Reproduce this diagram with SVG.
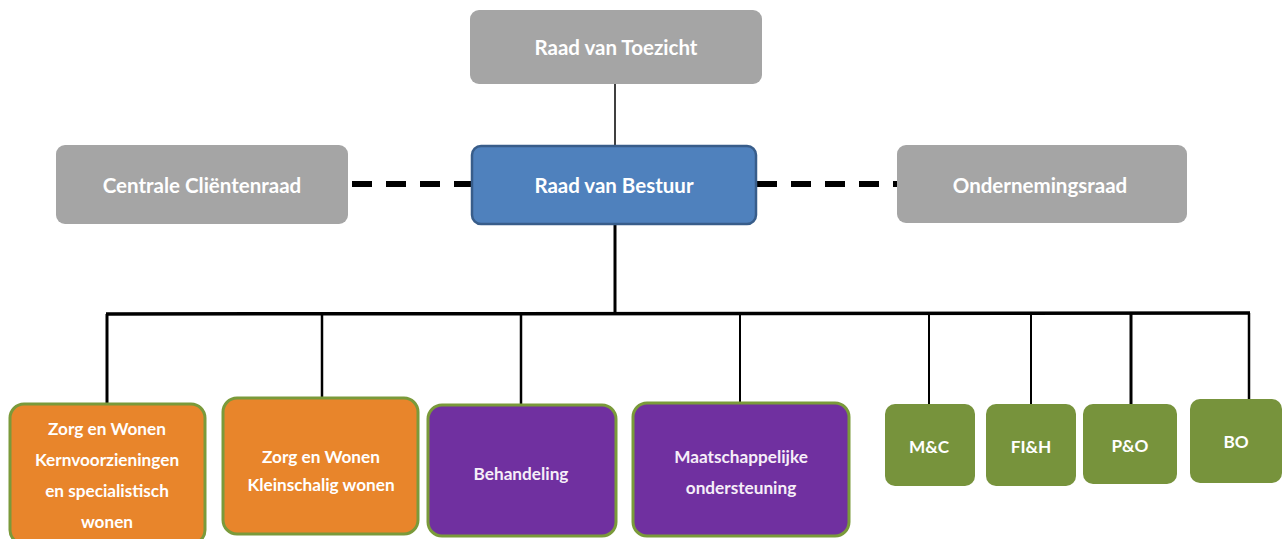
<svg xmlns="http://www.w3.org/2000/svg" width="1284" height="539" viewBox="0 0 1284 539">
<style>
text{font-family:Lato,"Open Sans","Liberation Sans",sans-serif;font-weight:bold;fill:#fff;text-anchor:middle;dominant-baseline:central}
.t{font-size:20.5px}
.s{font-size:17.2px}
.grey{fill:#a5a5a5}
.blue{fill:#4f81bd;stroke:#385d8a;stroke-width:2.5}
.orange{fill:#e8852b;stroke:#7a9a3a;stroke-width:3}
.purple{fill:#7030a0;stroke:#7a9a3a;stroke-width:3}
.green{fill:#77933c}
.line{stroke:#000;fill:none}
.dash{stroke:#000;stroke-width:6;stroke-dasharray:20 14;fill:none}
</style>
<rect width="1284" height="539" fill="#fff"/>
<g id="connectors">
<line class="line" x1="615" y1="84" x2="615" y2="146" stroke-width="1.5"/>
<line class="dash" x1="352" y1="184" x2="471" y2="184"/>
<line class="dash" x1="757" y1="184" x2="897" y2="184"/>
<line class="line" x1="615" y1="224" x2="615" y2="313" stroke-width="3"/>
<line class="line" x1="106" y1="314" x2="1250" y2="313" stroke-width="3.5"/>
<line class="line" x1="107" y1="314" x2="107" y2="404" stroke-width="3"/>
<line class="line" x1="322" y1="314" x2="322" y2="398" stroke-width="2.5"/>
<line class="line" x1="521" y1="314" x2="521" y2="405" stroke-width="2.5"/>
<line class="line" x1="740" y1="314" x2="740" y2="403" stroke-width="2"/>
<line class="line" x1="929" y1="313" x2="929" y2="404" stroke-width="2"/>
<line class="line" x1="1031" y1="313" x2="1031" y2="404" stroke-width="2"/>
<line class="line" x1="1131" y1="313" x2="1131" y2="405" stroke-width="3"/>
<line class="line" x1="1249" y1="313" x2="1249" y2="399" stroke-width="2.5"/>
</g>
<g id="raad-van-toezicht">
<rect class="grey" x="470" y="10" width="292" height="74" rx="9"/>
<text class="t" x="616" y="47">Raad van Toezicht</text>
</g>
<g id="centrale-clientenraad">
<rect class="grey" x="56" y="145" width="292" height="79" rx="9"/>
<text class="t" x="202" y="185">Centrale Cliëntenraad</text>
</g>
<g id="raad-van-bestuur">
<rect class="blue" x="472" y="146" width="284" height="78" rx="9"/>
<text class="t" x="614" y="185">Raad van Bestuur</text>
</g>
<g id="ondernemingsraad">
<rect class="grey" x="897" y="145" width="290" height="78" rx="9"/>
<text class="t" x="1040" y="185">Ondernemingsraad</text>
</g>
<g id="zorg-kern">
<rect class="orange" x="10" y="404" width="195" height="140" rx="14"/>
<text class="s" x="107" y="428">Zorg en Wonen</text>
<text class="s" x="107" y="459">Kernvoorzieningen</text>
<text class="s" x="107" y="490">en specialistisch</text>
<text class="s" x="107" y="521">wonen</text>
</g>
<g id="zorg-klein">
<rect class="orange" x="223" y="398" width="195" height="136" rx="14"/>
<text class="s" x="321" y="456">Zorg en Wonen</text>
<text class="s" x="321" y="484">Kleinschalig wonen</text>
</g>
<g id="behandeling">
<rect class="purple" x="428" y="405" width="188" height="131" rx="14"/>
<text class="s" x="521" y="473" style="fill:#f6eef8">Behandeling</text>
</g>
<g id="maatschappelijke">
<rect class="purple" x="633" y="403" width="216" height="133" rx="14"/>
<text class="s" x="741" y="456" style="fill:#f6eef8">Maatschappelijke</text>
<text class="s" x="741" y="487" style="fill:#f6eef8">ondersteuning</text>
</g>
<g id="mc">
<rect class="green" x="885" y="404" width="90" height="82" rx="10"/>
<text class="s" x="929" y="446">M&amp;C</text>
</g>
<g id="fih">
<rect class="green" x="986" y="404" width="90" height="82" rx="10"/>
<text class="s" x="1031" y="446">FI&amp;H</text>
</g>
<g id="po">
<rect class="green" x="1083" y="404" width="94" height="80" rx="10"/>
<text class="s" x="1130" y="445">P&amp;O</text>
</g>
<g id="bo">
<rect class="green" x="1190" y="399" width="92" height="84" rx="10"/>
<text class="s" x="1236" y="441">BO</text>
</g>
</svg>
